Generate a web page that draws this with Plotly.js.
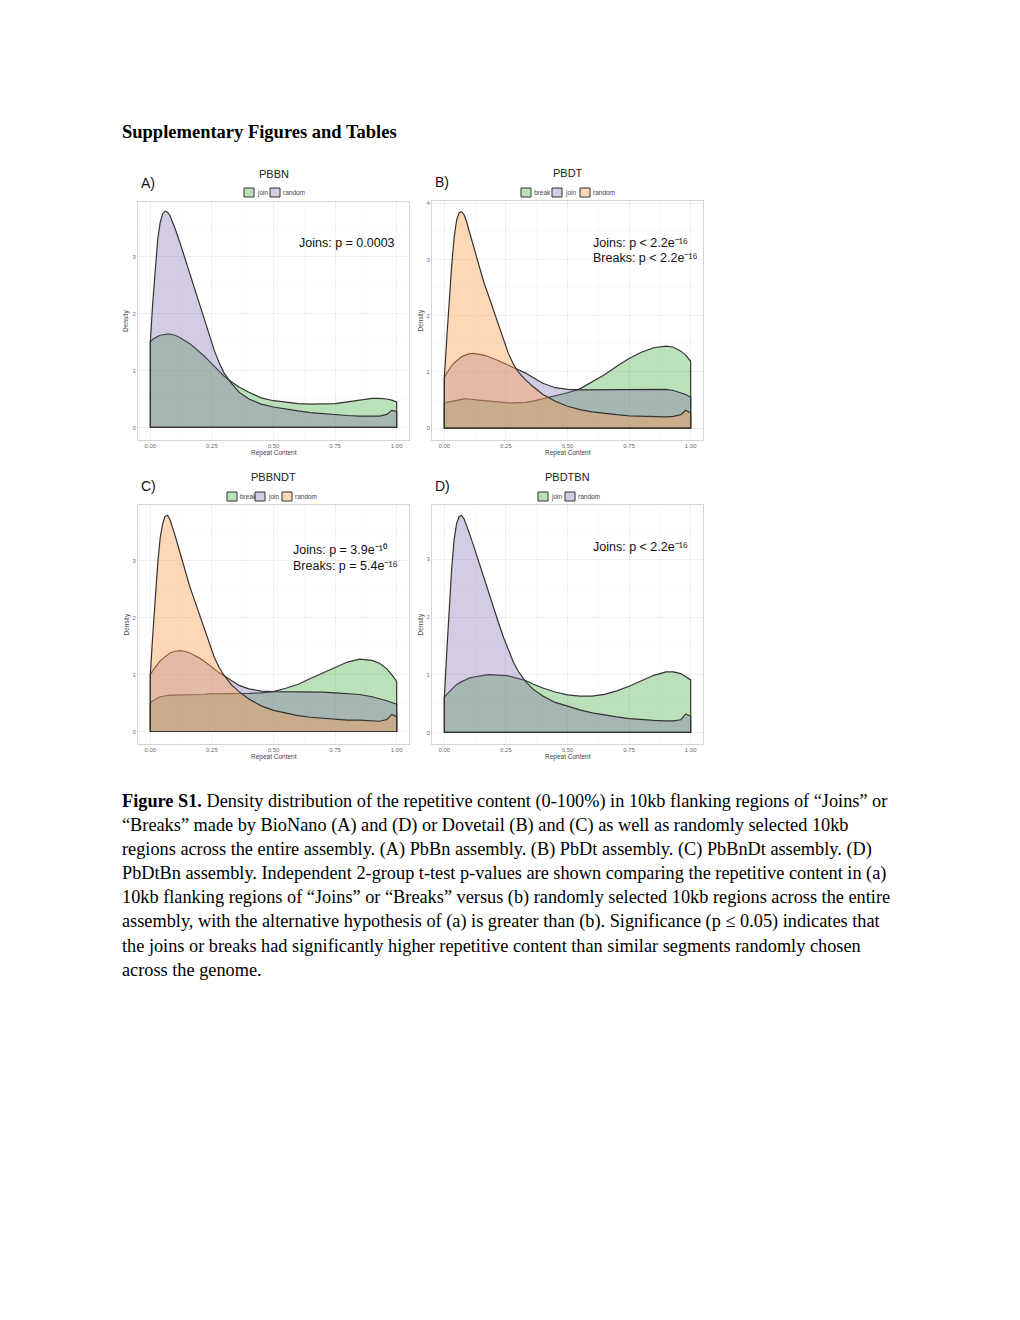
<!DOCTYPE html>
<html><head><meta charset="utf-8">
<script src="https://cdn.plot.ly/plotly-3.0.1.min.js"></script>
<style>
body{margin:0;background:#fff;}
#chart{position:absolute;left:0;top:0;width:1020px;height:1320px}
</style></head><body>
<div id="chart"></div>
<script>
// ---- data (density estimates) ----
const repeatContent = [0,0.01,0.02,0.03,0.04,0.05,0.06,0.07,0.08,0.09,0.10,0.12,0.14,0.16,0.18,0.20,0.22,0.24,0.26,0.28,0.30,0.33,0.36,0.40,0.45,0.50,0.55,0.60,0.65,0.70,0.75,0.80,0.85,0.90,0.93,0.96,0.98,1.00];

// A) PBBN
const pbbnJoin   = [1.50,1.55,1.58,1.60,1.62,1.63,1.64,1.64,1.64,1.63,1.62,1.58,1.53,1.47,1.40,1.33,1.25,1.16,1.07,0.98,0.90,0.80,0.71,0.62,0.52,0.47,0.44,0.42,0.41,0.41,0.42,0.45,0.48,0.51,0.51,0.50,0.48,0.45];
const pbbnRandom = [1.50,2.20,2.80,3.30,3.60,3.75,3.80,3.78,3.72,3.62,3.50,3.25,2.98,2.70,2.43,2.15,1.87,1.60,1.35,1.13,0.95,0.77,0.62,0.50,0.41,0.36,0.32,0.29,0.26,0.24,0.22,0.21,0.20,0.20,0.20,0.23,0.30,0.28];
// B) PBDT
const pbdtBreak  = [0.44,0.46,0.47,0.48,0.49,0.50,0.51,0.51,0.52,0.52,0.52,0.51,0.50,0.49,0.48,0.47,0.46,0.45,0.45,0.45,0.45,0.46,0.48,0.52,0.57,0.63,0.70,0.82,0.95,1.10,1.24,1.35,1.43,1.46,1.44,1.37,1.30,1.19];
const pbdtJoin   = [0.90,0.98,1.05,1.11,1.16,1.20,1.24,1.27,1.29,1.31,1.32,1.33,1.32,1.30,1.27,1.24,1.20,1.16,1.12,1.09,1.05,0.98,0.90,0.80,0.72,0.69,0.68,0.68,0.69,0.69,0.69,0.69,0.69,0.69,0.67,0.63,0.60,0.55];
const pbdtRandom = [0.90,1.60,2.30,2.90,3.40,3.70,3.83,3.85,3.80,3.68,3.52,3.20,2.90,2.60,2.35,2.10,1.82,1.56,1.33,1.14,1.00,0.86,0.74,0.60,0.48,0.39,0.33,0.29,0.26,0.24,0.22,0.21,0.21,0.20,0.21,0.24,0.32,0.27];
// C) PBBNDT
const pbbndtBreak  = [0.50,0.54,0.57,0.59,0.61,0.62,0.63,0.63,0.64,0.64,0.64,0.65,0.65,0.65,0.65,0.65,0.65,0.66,0.66,0.66,0.67,0.67,0.67,0.67,0.68,0.70,0.76,0.83,0.93,1.03,1.13,1.22,1.27,1.25,1.20,1.10,1.00,0.88];
const pbbndtJoin   = [1.00,1.07,1.13,1.19,1.24,1.28,1.32,1.35,1.38,1.40,1.41,1.42,1.41,1.38,1.34,1.29,1.23,1.16,1.09,1.03,0.98,0.89,0.81,0.75,0.71,0.70,0.70,0.70,0.70,0.69,0.68,0.67,0.65,0.61,0.58,0.54,0.51,0.48];
const pbbndtRandom = [1.00,1.70,2.40,2.95,3.40,3.65,3.78,3.80,3.72,3.60,3.45,3.15,2.85,2.55,2.30,2.05,1.78,1.52,1.30,1.12,0.98,0.82,0.70,0.57,0.45,0.37,0.32,0.28,0.25,0.23,0.21,0.20,0.20,0.19,0.18,0.21,0.30,0.26];
// D) PBDTBN
const pbdtbnJoin   = [0.61,0.66,0.71,0.75,0.79,0.83,0.86,0.88,0.90,0.92,0.94,0.96,0.98,0.99,1.00,1.00,1.00,0.99,0.98,0.96,0.94,0.90,0.84,0.77,0.70,0.65,0.63,0.63,0.66,0.72,0.80,0.90,0.99,1.05,1.05,1.02,0.97,0.91];
const pbdtbnRandom = [0.60,1.40,2.20,2.85,3.35,3.62,3.74,3.76,3.70,3.60,3.47,3.22,2.95,2.68,2.42,2.15,1.90,1.65,1.42,1.22,1.06,0.88,0.75,0.63,0.52,0.45,0.39,0.34,0.30,0.27,0.24,0.22,0.21,0.20,0.20,0.22,0.32,0.28];

const xTickVals = [0,0.25,0.5,0.75,1];
const xTickText = ['0.00','0.25','0.50','0.75','1.00'];
const panelTitles = ['PBBN','PBDT','PBBNDT','PBDTBN'];
const panelLetters = ['A)','B)','C)','D)'];
const pValueLines = [
  ['Joins: p = 0.0003'],
  ['Joins: p < 2.2e⁻¹⁶', 'Breaks: p < 2.2e⁻¹⁶'],
  ['Joins: p = 3.9e⁻¹⁰', 'Breaks: p = 5.4e⁻¹⁶'],
  ['Joins: p < 2.2e⁻¹⁶'],
];
const pageHeading = 'Supplementary Figures and Tables';
const captionLines = [
  '<b>Figure S1.</b> Density distribution of the repetitive content (0-100%) in 10kb flanking regions of “Joins” or',
  '“Breaks” made by BioNano (A) and (D) or Dovetail (B) and (C) as well as randomly selected 10kb',
  'regions across the entire assembly. (A) PbBn assembly. (B) PbDt assembly. (C) PbBnDt assembly. (D)',
  'PbDtBn assembly. Independent 2-group t-test p-values are shown comparing the repetitive content in (a)',
  '10kb flanking regions of “Joins” or “Breaks” versus (b) randomly selected 10kb regions across the entire',
  'assembly, with the alternative hypothesis of (a) is greater than (b). Significance (p ≤ 0.05) indicates that',
  'the joins or breaks had significantly higher repetitive content than similar segments randomly chosen',
  'across the genome.'
];

// ---- styling ---- (fill colours follow group order within each panel, as ggplot does)
const FILLS = ['rgba(77,175,74,0.38)', 'rgba(120,95,165,0.32)', 'rgba(250,160,80,0.42)'];
const W = 1020, H = 1320;
const fx = p => p / W, fy = p => 1 - p / H;
const SANS = '"Liberation Sans", Arial, sans-serif';
const SERIF = '"Liberation Serif", "Times New Roman", serif';

const panels = [
  {box:[138,409,202,440], yr:[-0.22,3.96], yt:[0,1,2,3],
   groups:['join','random'], series:[pbbnJoin, pbbnRandom]},
  {box:[432,703,201,440], yr:[-0.21,4.04], yt:[0,1,2,3,4],
   groups:['break','join','random'], series:[pbdtBreak, pbdtJoin, pbdtRandom]},
  {box:[138,409,505,744], yr:[-0.22,3.98], yt:[0,1,2,3],
   groups:['break','join','random'], series:[pbbndtBreak, pbbndtJoin, pbbndtRandom]},
  {box:[432,703,505,744], yr:[-0.2,3.94], yt:[0,1,2,3],
   groups:['join','random'], series:[pbdtbnJoin, pbdtbnRandom]},
];
// legend key positions (page px): swatch left edges and row top
const legendRows = [
  {y:188, lefts:[244,270]},
  {y:188, lefts:[521,552,580]},
  {y:492, lefts:[227,255,282]},
  {y:492, lefts:[538,565]},
];
// p-value text anchors (page px): x, first line centre, anchor side
const pTextPos = [
  {x:397, y:243, anchor:'right'},
  {x:591, y:243, anchor:'left'},
  {x:291, y:550, anchor:'left'},
  {x:591, y:547, anchor:'left'},
];

const traces = [], layout = {
  width: W, height: H, margin:{l:0,r:0,t:0,b:0},
  paper_bgcolor:'#fff', plot_bgcolor:'#fff', showlegend:false,
  annotations:[], shapes:[], font:{family:SANS}
};

panels.forEach((p, i) => {
  const n = i + 1, sx = n === 1 ? '' : n;
  const [x0,x1,y0,y1] = p.box;
  layout['xaxis'+sx] = {
    domain:[fx(x0), fx(x1)], range:[-0.05,1.05], anchor:'y'+sx,
    tickvals:xTickVals, ticktext:xTickText, ticks:'', zeroline:false,
    showgrid:true, gridcolor:'#ebebeb', gridwidth:0.8,
    minor:{tickvals:[0.125,0.375,0.625,0.875], showgrid:true, gridcolor:'#f5f5f5', gridwidth:0.5},
    showline:true, mirror:true, linecolor:'#d4d4d4', linewidth:1,
    tickfont:{size:6, color:'#6b6b6b', family:SANS}, fixedrange:true
  };
  layout['yaxis'+sx] = {
    domain:[fy(y1), fy(y0)], range:p.yr, anchor:'x'+sx,
    tickvals:p.yt, ticks:'', zeroline:false,
    showgrid:true, gridcolor:'#ebebeb', gridwidth:0.8,
    minor:{tickvals:p.yt.map(v=>v+0.5), showgrid:true, gridcolor:'#f5f5f5', gridwidth:0.5},
    showline:true, mirror:true, linecolor:'#d4d4d4', linewidth:1,
    tickfont:{size:6, color:'#5c6ab0', family:SANS}, fixedrange:true
  };
  p.series.forEach((ys, k) => {
    const xs = repeatContent;
    traces.push({
      type:'scatter', mode:'lines', xaxis:'x'+sx, yaxis:'y'+sx,
      x:[xs[0], ...xs, xs[xs.length-1], xs[0]],
      y:[0, ...ys, 0, 0],
      fill:'toself', fillcolor:FILLS[k],
      line:{color:'#333', width:1.2}, name:p.groups[k], hoverinfo:'skip'
    });
  });
  const cx = (x0 + x1) / 2;
  layout.annotations.push({xref:'paper', yref:'paper', x:fx(cx), y:fy(y0-28), text:panelTitles[i],
    showarrow:false, xanchor:'center', yanchor:'middle', font:{size:11, color:'#222', family:SANS}});
  layout.annotations.push({xref:'paper', yref:'paper', x:fx(x0+1), y:fy(y0-19), text:panelLetters[i],
    showarrow:false, xanchor:'left', yanchor:'middle', font:{size:14, color:'#111', family:SANS}});
  layout.annotations.push({xref:'paper', yref:'paper', x:fx(cx), y:fy(y1+13), text:'Repeat Content',
    showarrow:false, xanchor:'center', yanchor:'middle', font:{size:6.5, color:'#444', family:SANS}});
  layout.annotations.push({xref:'paper', yref:'paper', x:fx(x0-12), y:fy((y0+y1)/2), text:'Density', textangle:-90,
    showarrow:false, xanchor:'center', yanchor:'middle', font:{size:6.5, color:'#444', family:SANS}});
  // legend keys
  const L = legendRows[i];
  p.groups.forEach((g, k) => {
    const lx = L.lefts[k];
    layout.shapes.push({type:'rect', xref:'paper', yref:'paper', x0:fx(lx), x1:fx(lx+10), y0:fy(L.y+9), y1:fy(L.y),
      fillcolor:FILLS[k], line:{color:'#333', width:1}});
    layout.annotations.push({xref:'paper', yref:'paper', x:fx(lx+11), y:fy(L.y+4.5), text:g, showarrow:false,
      xanchor:'left', yanchor:'middle', font:{size:6.5, color:'#444', family:SANS}});
  });
  // p-value lines
  const t = pTextPos[i];
  pValueLines[i].forEach((line, k) => layout.annotations.push({xref:'paper', yref:'paper', x:fx(t.x), y:fy(t.y + k*15.5),
    text:line, showarrow:false, xanchor:t.anchor, yanchor:'middle', font:{size:12.5, color:'#111', family:SANS}}));
});

// page heading and caption
layout.annotations.push({xref:'paper', yref:'paper', x:fx(121), y:fy(132), text:'<b>'+pageHeading+'</b>',
  showarrow:false, xanchor:'left', yanchor:'middle', borderpad:0, font:{size:18.5, color:'#000', family:SERIF}});
captionLines.forEach((line, k) => layout.annotations.push({xref:'paper', yref:'paper', x:fx(121), y:fy(801 + k*24.15),
  text:line, showarrow:false, xanchor:'left', yanchor:'middle', align:'left', borderpad:0,
  font:{size:18.3, color:'#000', family:SERIF}}));

Plotly.newPlot('chart', traces, layout, {staticPlot:true, displayModeBar:false});
</script>
</body></html>
